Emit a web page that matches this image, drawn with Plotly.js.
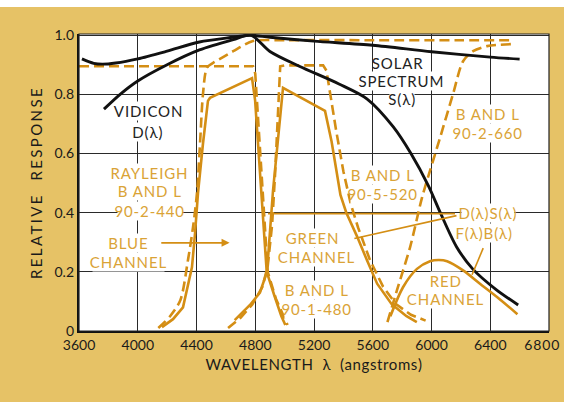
<!DOCTYPE html>
<html>
<head>
<meta charset="utf-8">
<script src="https://cdn.plot.ly/plotly-3.0.1.min.js"></script>
<style>
html,body{margin:0;padding:0;background:#ffffff;}
#chart{width:564px;height:395px;margin-top:7px;}
#chart .annotation-text{letter-spacing:0.9px;}
#chart .ytitle{letter-spacing:2.4px;}
#chart .xtitle{letter-spacing:0.6px;}
</style>
</head>
<body>
<div id="chart"></div>
<script>
// ---- data (wavelength in angstroms, relative response) ----
const solarX = [3620, 3700, 3760, 3850, 4000, 4200, 4420, 4650, 4760, 4900, 5200, 5600, 6000, 6400, 6600];
const solarY = [0.92, 0.905, 0.902, 0.906, 0.92, 0.946, 0.977, 0.993, 1.0, 0.993, 0.98, 0.966, 0.944, 0.926, 0.919];

const vidX = [3770, 3880, 4000, 4200, 4420, 4650, 4770, 4900, 5100, 5370, 5560, 5740, 5860, 5980, 6060, 6170, 6280, 6440, 6590];
const vidY = [0.75, 0.80, 0.845, 0.90, 0.95, 0.985, 1.0, 0.945, 0.895, 0.835, 0.785, 0.69, 0.60, 0.49, 0.40, 0.285, 0.21, 0.14, 0.088];

const rayX = [3600, 4785, 4800, 4822, 4850, 4885, 4940, 4990, 5020];
const rayY = [0.895, 0.895, 0.87, 0.70, 0.475, 0.20, 0.11, 0.05, 0.02];

const lp440X = [4140, 4220, 4290, 4342, 4376, 4403, 4424, 4444, 4471, 4512, 4560, 4650, 4785, 5000, 5600, 6200, 6555];
const lp440Y = [0.01, 0.05, 0.104, 0.24, 0.35, 0.465, 0.633, 0.80, 0.89, 0.906, 0.92, 0.946, 0.98, 0.983, 0.983, 0.983, 0.983];

const blueX = [4165, 4240, 4308, 4369, 4390, 4410, 4444, 4478, 4492, 4778, 4799, 4820, 4840, 4878, 4930, 4978, 5005];
const blueY = [0.013, 0.04, 0.08, 0.215, 0.33, 0.465, 0.633, 0.778, 0.788, 0.855, 0.78, 0.62, 0.45, 0.2, 0.12, 0.05, 0.02];

const grnFX = [4615, 4700, 4780, 4850, 4885, 4915, 4935, 4955, 4970, 5000, 5262, 5285, 5309, 5350, 5400, 5450, 5500, 5581, 5670, 5760, 5860, 5960];
const grnFY = [0.01, 0.045, 0.09, 0.15, 0.22, 0.36, 0.53, 0.754, 0.895, 0.898, 0.898, 0.88, 0.80, 0.68, 0.54, 0.43, 0.35, 0.24, 0.15, 0.09, 0.055, 0.035];

const grnX = [4660, 4764, 4832, 4880, 4921, 4955, 4989, 5275, 5320, 5350, 5380, 5420, 5493, 5560, 5630, 5730, 5830, 5900];
const grnY = [0.037, 0.088, 0.13, 0.2, 0.475, 0.643, 0.822, 0.744, 0.64, 0.55, 0.46, 0.40, 0.32, 0.24, 0.16, 0.09, 0.05, 0.03];

const redFX = [5700, 5765, 5854, 5935, 5990, 6058, 6146, 6215, 6283, 6378, 6555];
const redFY = [0.03, 0.138, 0.283, 0.45, 0.542, 0.653, 0.80, 0.912, 0.946, 0.963, 0.97];

const redX = [5720, 5806, 5901, 5990, 6050, 6106, 6215, 6330, 6446, 6585];
const redY = [0.05, 0.148, 0.21, 0.236, 0.24, 0.236, 0.205, 0.16, 0.115, 0.057];

const xTicks = [3600, 4000, 4400, 4800, 5200, 5600, 6000, 6400, 6800];
const xTickText = ['3600', '4000', '4400', '4800', '5200', '5600', '6000', '6400', ''];
const lastXTick = '6800';
const yTicks = [0, 0.2, 0.4, 0.6, 0.8, 1.0];
const yTickText = ['0', '0.2', '0.4', '0.6', '0.8', '1.0'];

// ---- styling ----
const ORANGE = '#D48E14';
const ORANGE_TXT = '#DAA336';
const BLACK = '#111111';
const GOLD = '#E6C266';
const FONT = 'Lato, "DejaVu Sans", sans-serif';
const DASH = '10px,5px';

function tr(x, y, color, dash, shape, w) {
  return {
    x: x, y: y, type: 'scatter', mode: 'lines', hoverinfo: 'skip',
    line: {color: color, width: w || 2.6, dash: dash || 'solid', shape: shape || 'linear', smoothing: 0.8}
  };
}

const data = [
  tr(rayX, rayY, ORANGE, DASH),
  tr(lp440X, lp440Y, ORANGE, DASH, 'spline'),
  tr(grnFX, grnFY, ORANGE, DASH),
  tr(redFX, redFY, ORANGE, DASH, 'spline'),
  tr(blueX, blueY, ORANGE),
  tr(grnX, grnY, ORANGE),
  tr(redX, redY, ORANGE, null, 'spline'),
  tr(solarX, solarY, BLACK, null, 'spline', 2.9),
  tr(vidX, vidY, BLACK, null, 'spline', 2.9)
];

function lab(text, x, y, color) {
  return {
    text: text, x: x, y: y, xref: 'x', yref: 'y', showarrow: false,
    font: {family: FONT, size: 15, color: color}, bgcolor: '#ffffff',
    borderpad: 0, align: 'center'
  };
}
const DK = '#222222';

const annotations = [
  lab('SOLAR', 5772, 0.906, DK),
  lab('SPECTRUM', 5799, 0.845, DK),
  lab('S(λ)', 5799, 0.785, DK),
  lab('VIDICON', 4070, 0.744, DK),
  lab('D(λ)', 4070, 0.673, DK),
  lab('RAYLEIGH', 4083, 0.535, ORANGE_TXT),
  lab('B AND L', 4083, 0.473, ORANGE_TXT),
  lab('90-2-440', 4083, 0.407, ORANGE_TXT),
  lab('BLUE', 3934, 0.298, ORANGE_TXT),
  lab('CHANNEL', 3934, 0.232, ORANGE_TXT),
  lab('B AND L', 6385, 0.734, ORANGE_TXT),
  lab('90-2-660', 6385, 0.67, ORANGE_TXT),
  lab('B AND L', 5670, 0.527, ORANGE_TXT),
  lab('90-5-520', 5670, 0.464, ORANGE_TXT),
  lab('D(λ)S(λ)', 6385, 0.40, ORANGE_TXT),
  lab('F(λ)B(λ)', 6358, 0.33, ORANGE_TXT),
  lab('GREEN', 5193, 0.315, ORANGE_TXT),
  lab('CHANNEL', 5220, 0.249, ORANGE_TXT),
  lab('B AND L', 5220, 0.140, ORANGE_TXT),
  lab('90-1-480', 5220, 0.075, ORANGE_TXT),
  lab('RED', 6092, 0.170, ORANGE_TXT),
  lab('CHANNEL', 6092, 0.108, ORANGE_TXT),
  {
    text: '', x: 4625, y: 0.298, ax: 4150, ay: 0.298, axref: 'x', ayref: 'y',
    xref: 'x', yref: 'y', showarrow: true, arrowhead: 2, arrowsize: 1,
    arrowwidth: 1.6, arrowcolor: ORANGE, standoff: 0
  },
  {
    text: lastXTick, x: 6800, y: 0, xref: 'x', yref: 'paper', yanchor: 'top',
    xanchor: 'center', xshift: -7, yshift: -3, showarrow: false,
    font: {family: FONT, size: 14, color: '#1a1a1a'}
  }
];

const shapes = [
  {type: 'line', xref: 'x', yref: 'y', x0: 4887, y0: 0.397, x1: 6160, y1: 0.397,
   line: {color: ORANGE, width: 1.8}},
  {type: 'line', xref: 'x', yref: 'y', x0: 6170, y0: 0.39, x1: 5475, y1: 0.313,
   line: {color: ORANGE, width: 1.6}},
  {type: 'line', xref: 'x', yref: 'y', x0: 6352, y0: 0.28, x1: 6276, y1: 0.19,
   line: {color: ORANGE, width: 1.6}},
  {type: 'rect', xref: 'paper', yref: 'paper', x0: 0, y0: 0, x1: 1, y1: 1,
   line: {color: '#222222', width: 1.2}, layer: 'above'}
];

const layout = {
  width: 564, height: 395,
  margin: {l: 79, r: 15, t: 27, b: 71},
  paper_bgcolor: GOLD, plot_bgcolor: '#ffffff',
  showlegend: false,
  font: {family: FONT, color: '#1a1a1a'},
  xaxis: {
    range: [3600, 6800], tickvals: xTicks, ticktext: xTickText,
    showgrid: true, gridcolor: '#2a2a2a', gridwidth: 1,
    showline: true, linecolor: '#111111', linewidth: 2.2,
    ticks: '', zeroline: false,
    tickfont: {size: 14, family: FONT, color: '#1a1a1a'},
    title: {text: 'WAVELENGTH  λ  (angstroms)', font: {size: 15, family: FONT, color: '#1a1a1a'}, standoff: 8}
  },
  yaxis: {
    range: [0, 1.004], tickvals: yTicks, ticktext: yTickText,
    showgrid: true, gridcolor: '#2a2a2a', gridwidth: 1,
    showline: true, linecolor: '#111111', linewidth: 2.2,
    ticks: '', zeroline: false, tickfont: {size: 14, family: FONT, color: '#1a1a1a'},
    title: {text: 'RELATIVE  RESPONSE', font: {size: 15, family: FONT, color: '#1a1a1a'}, standoff: 8}
  },
  annotations: annotations,
  shapes: shapes
};

Plotly.newPlot('chart', data, layout, {displayModeBar: false, staticPlot: true});
</script>
</body>
</html>
